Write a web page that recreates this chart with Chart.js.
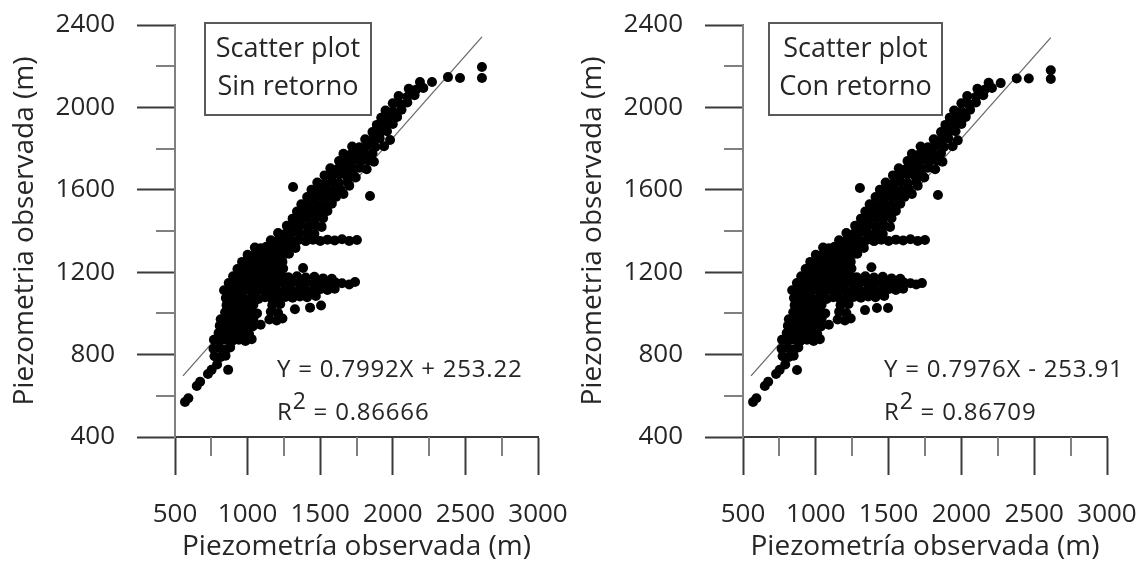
<!DOCTYPE html>
<html>
<head>
<meta charset="utf-8">
<script src="https://cdn.jsdelivr.net/npm/chart.js@4.4.1/dist/chart.umd.min.js"></script>
<style>
  body { margin: 0; background: #fff; font-family: "Open Sans", sans-serif; color: #262626; }
  .wrap { position: relative; width: 1146px; height: 569px; overflow: hidden; }
  .panel { position: absolute; top: 0; height: 569px; }
  .panel canvas { position: absolute; left: 0; top: 0; }
  .box {
    position: absolute; top: 22px; height: 94px; box-sizing: border-box;
    border: 2px solid #595959; padding-top: 4px;
    font-size: 27px; line-height: 38px; text-align: center; white-space: nowrap;
  }
  .eq { position: absolute; font-size: 24px; line-height: 30px; letter-spacing: 0.8px; white-space: nowrap; }
  .eq .sup { position: relative; top: -11px; font-size: 23px; }
</style>
</head>
<body>
<div class="wrap">
  <div class="panel" style="left:0; width:568px;">
    <canvas id="sinChart" width="568" height="569"></canvas>
    <div class="box" style="left:204px; width:168px;">Scatter plot<br>Sin retorno</div>
    <div class="eq" id="sinEq" style="left:277px; top:353px;"></div>
    <div class="eq" id="sinR2" style="left:277px; top:396px;"></div>
  </div>
  <div class="panel" style="left:568px; width:578px;">
    <canvas id="conChart" width="578" height="569"></canvas>
    <div class="box" style="left:200px; width:175px;">Scatter plot<br>Con retorno</div>
    <div class="eq" id="conEq" style="left:316px; top:353px;"></div>
    <div class="eq" id="conR2" style="left:316px; top:396px;"></div>
  </div>
</div>

<script>
// axis label positions
const xLabelValues = [500, 1000, 1500, 2000, 2500, 3000];
const yLabelValues = [400, 800, 1200, 1600, 2000, 2400];

// fitted line: slope / intercept and the x range it covers
const fitX = [555, 2614];
const fitSlope = [0.7992, 0.7976];
const fitIntercept = [253.22, 253.91];
const eqText = ["Y = 0.7992X + 253.22", "Y = 0.7976X - 253.91"];
const r2Text = ["0.86666", "0.86709"];

// [observada, simulada] pairs, sin retorno
const sinRetorno = [
  [569,570],[592,588],[650,648],[673,668],[727,706],[752,726],[790,752],[866,726],
  [772,792],[815,788],[848,795],
  [765,828],[805,832],[850,826],[880,835],
  [768,872],[810,866],[850,874],[895,868],[940,872],[985,866],[1028,875],
  [800,905],[842,900],[885,908],[930,902],[975,906],[1010,900],
  [808,940],[850,936],[895,944],[940,938],[985,942],[1035,936],[1090,945],
  [815,972],[860,968],[905,975],[950,970],[995,966],[1040,974],[1150,970],[1200,966],[1240,975],
  [845,1005],[890,1000],[935,1008],[980,1002],[1025,1006],[1065,1000],[1160,1008],[1210,1002],
  [1326,1020],[1430,1028],[1506,1038],
  [855,1040],[900,1036],[945,1044],[990,1038],[1040,1042],[1170,1040],[1225,1046],
  [850,1075],[895,1072],[940,1078],[985,1070],[1030,1076],[1075,1070],[1120,1078],[1165,1072],
  [1210,1076],[1260,1080],[1310,1076],[1360,1082],[1410,1078],[1470,1085],
  [838,1112],[880,1106],[925,1114],[970,1108],[1015,1112],[1060,1106],[1105,1114],[1150,1108],
  [1200,1112],[1250,1108],[1300,1115],[1350,1110],[1400,1116],[1450,1110],[1500,1118],[1550,1114],[1600,1120],
  [870,1147],[912,1142],[955,1150],[998,1144],[1040,1148],[1082,1142],[1125,1150],[1165,1144],
  [1205,1148],[1255,1142],[1305,1150],[1355,1145],[1405,1150],[1455,1144],[1505,1150],[1555,1145],
  [1605,1150],[1650,1146],[1700,1140],[1740,1152],
  [900,1180],[942,1176],[985,1184],[1028,1178],[1070,1182],[1112,1176],[1155,1184],[1195,1178],
  [1235,1182],[1280,1176],[1340,1180],[1400,1174],[1460,1178],[1520,1170],[1580,1168],
  [930,1215],[970,1211],[1010,1219],[1050,1213],[1090,1217],[1130,1211],[1170,1219],[1210,1213],[1245,1218],[1382,1220],
  [962,1250],[1000,1246],[1040,1254],[1080,1248],[1120,1252],[1160,1246],[1200,1254],[1240,1250],
  [1000,1285],[1040,1281],[1080,1289],[1120,1283],[1160,1287],[1200,1281],[1240,1288],[1285,1290],
  [1050,1320],[1090,1316],[1130,1324],[1170,1318],[1210,1322],[1250,1316],[1290,1324],[1330,1318],
  [1160,1355],[1205,1351],[1250,1359],[1300,1353],[1350,1357],[1400,1351],[1450,1358],[1500,1352],
  [1550,1358],[1600,1354],[1650,1360],[1700,1352],[1753,1356],
  [1210,1390],[1260,1386],[1310,1394],[1360,1388],[1410,1392],[1460,1386],
  [1270,1425],[1320,1421],[1370,1429],[1420,1423],[1470,1427],[1510,1420],
  [1310,1460],[1360,1456],[1410,1464],[1460,1458],[1520,1462],
  [1340,1495],[1390,1491],[1440,1499],[1490,1493],[1550,1497],
  [1370,1530],[1420,1526],[1470,1534],[1520,1528],[1580,1532],
  [1410,1565],[1460,1561],[1510,1569],[1560,1563],[1610,1567],[1660,1580],[1843,1570],
  [1440,1600],[1490,1596],[1540,1604],[1590,1598],[1640,1602],[1700,1620],[1313,1614],
  [1480,1635],[1530,1631],[1580,1639],[1630,1633],[1690,1637],[1745,1660],
  [1530,1670],[1580,1666],[1630,1674],[1680,1668],[1730,1672],
  [1570,1705],[1620,1701],[1670,1709],[1720,1703],[1770,1707],[1820,1700],
  [1630,1740],[1680,1736],[1730,1744],[1780,1738],[1830,1742],[1870,1736],
  [1660,1775],[1710,1771],[1760,1779],[1810,1773],[1860,1777],
  [1720,1810],[1770,1806],[1820,1814],[1880,1808],[1940,1812],
  [1810,1845],[1860,1841],[1910,1849],[1981,1842],
  [1860,1880],[1910,1876],[1960,1884],
  [1890,1915],[1940,1911],[2000,1919],
  [1920,1950],[1970,1946],[2030,1954],
  [1950,1985],[2000,1981],[2060,1989],
  [2000,2020],[2050,2016],[2100,2024],
  [2040,2055],[2100,2051],[2150,2059],
  [2110,2090],[2160,2086],[2210,2094],
  [2187,2123],[2270,2123],
  [2380,2147],[2463,2143],[2614,2196],[2614,2143]
];

// [observada, simulada] pairs, con retorno
const conRetorno = [
  [569,570],[592,588],[650,648],[673,668],[727,706],[752,726],[790,752],[871,725],
  [772,792],[815,788],[848,795],
  [765,828],[805,832],[850,826],[880,835],
  [768,872],[810,866],[850,874],[895,868],[940,872],[985,866],[1028,875],
  [800,905],[842,900],[885,908],[930,902],[975,906],[1010,900],
  [808,940],[850,936],[895,944],[940,938],[985,942],[1035,936],[1090,945],
  [815,972],[860,968],[905,975],[950,970],[995,966],[1040,974],[1150,970],[1200,966],[1240,975],
  [845,1005],[890,1000],[935,1008],[980,1002],[1025,1006],[1065,1000],[1160,1008],[1210,1002],
  [1338,1016],[1420,1026],[1496,1026],
  [855,1040],[900,1036],[945,1044],[990,1038],[1040,1042],[1170,1040],[1225,1046],
  [850,1075],[895,1072],[940,1078],[985,1070],[1030,1076],[1075,1070],[1120,1078],[1165,1072],
  [1210,1076],[1260,1080],[1310,1076],[1360,1082],[1410,1078],[1470,1085],
  [838,1112],[880,1106],[925,1114],[970,1108],[1015,1112],[1060,1106],[1105,1114],[1150,1108],
  [1200,1112],[1250,1108],[1300,1115],[1350,1110],[1400,1116],[1450,1110],[1500,1118],[1550,1114],[1600,1120],
  [870,1147],[912,1142],[955,1150],[998,1144],[1040,1148],[1082,1142],[1125,1150],[1165,1144],
  [1205,1148],[1255,1142],[1305,1150],[1355,1145],[1405,1150],[1455,1144],[1505,1150],[1555,1145],
  [1605,1150],[1650,1146],[1690,1140],[1729,1147],
  [900,1180],[942,1176],[985,1184],[1028,1178],[1070,1182],[1112,1176],[1155,1184],[1195,1178],
  [1235,1182],[1280,1176],[1340,1180],[1400,1174],[1460,1178],[1520,1170],[1580,1168],
  [930,1215],[970,1211],[1010,1219],[1050,1213],[1090,1217],[1130,1211],[1170,1219],[1210,1213],[1245,1218],[1382,1224],
  [962,1250],[1000,1246],[1040,1254],[1080,1248],[1120,1252],[1160,1246],[1200,1254],[1240,1250],
  [1000,1285],[1040,1281],[1080,1289],[1120,1283],[1160,1287],[1200,1281],[1240,1288],[1285,1290],
  [1050,1320],[1090,1316],[1130,1324],[1170,1318],[1210,1322],[1250,1316],[1290,1324],[1330,1318],
  [1160,1355],[1205,1351],[1250,1359],[1300,1353],[1350,1357],[1400,1351],[1450,1358],[1500,1352],
  [1550,1358],[1600,1354],[1650,1360],[1700,1352],[1750,1356],
  [1210,1390],[1260,1386],[1310,1394],[1360,1388],[1410,1392],[1460,1386],
  [1270,1425],[1320,1421],[1370,1429],[1420,1423],[1470,1427],[1510,1420],
  [1310,1460],[1360,1456],[1410,1464],[1460,1458],[1520,1462],
  [1340,1495],[1390,1491],[1440,1499],[1490,1493],[1550,1497],
  [1370,1530],[1420,1526],[1470,1534],[1520,1528],[1580,1532],
  [1410,1565],[1460,1561],[1510,1569],[1560,1563],[1610,1567],[1660,1580],[1839,1575],
  [1440,1600],[1490,1596],[1540,1604],[1590,1598],[1640,1602],[1700,1620],[1303,1609],
  [1480,1635],[1530,1631],[1580,1639],[1630,1633],[1690,1637],[1745,1660],
  [1530,1670],[1580,1666],[1630,1674],[1680,1668],[1730,1672],
  [1570,1705],[1620,1701],[1670,1709],[1720,1703],[1770,1707],[1820,1700],
  [1630,1740],[1680,1736],[1730,1744],[1780,1738],[1830,1742],[1870,1736],
  [1660,1775],[1710,1771],[1760,1779],[1810,1773],[1860,1777],
  [1720,1810],[1770,1806],[1820,1814],[1880,1808],[1940,1812],
  [1810,1845],[1860,1841],[1910,1849],[1975,1840],
  [1860,1880],[1910,1876],[1960,1884],
  [1890,1915],[1940,1911],[2000,1919],
  [1920,1950],[1970,1946],[2030,1954],
  [1950,1985],[2000,1981],[2060,1989],
  [2000,2020],[2050,2016],[2100,2024],
  [2040,2055],[2100,2051],[2150,2059],
  [2110,2090],[2160,2086],[2210,2094],
  [2187,2120],[2270,2118],
  [2380,2140],[2463,2140],[2614,2180],[2614,2138]
];

Chart.defaults.font.family = "'Open Sans', sans-serif";
Chart.defaults.color = "#262626";

const AXIS_DARK = "#3a3a3a";
const AXIS_GRAY = "#808080";
const TICK_FONT = { size: 26 };
const TITLE_FONT = { size: 28 };

// short ticks between the labelled ones
const minorTicks = {
  id: "minorTicks",
  afterDraw(chart) {
    const { ctx } = chart;
    const x = chart.scales.x, y = chart.scales.y;
    ctx.save();
    ctx.strokeStyle = AXIS_GRAY;
    ctx.lineWidth = 2;
    x.ticks.forEach(t => {
      if (xLabelValues.includes(t.value)) return;
      const px = Math.round(x.getPixelForValue(t.value));
      ctx.beginPath();
      ctx.moveTo(px, x.top);
      ctx.lineTo(px, x.top + 19);
      ctx.stroke();
    });
    y.ticks.forEach(t => {
      if (yLabelValues.includes(t.value)) return;
      const py = Math.round(y.getPixelForValue(t.value));
      ctx.beginPath();
      ctx.moveTo(y.right, py);
      ctx.lineTo(y.right - 19, py);
      ctx.stroke();
    });
    ctx.restore();
  }
};

// fixed axis box sizes, no extra room for edge labels
function fitX_(s) {
  s.height = 132;
  s.paddingLeft = s.paddingRight = s.paddingTop = s.paddingBottom = 0;
}
function fitY_(s) {
  s.width = 175;
  s.paddingLeft = s.paddingRight = s.paddingTop = s.paddingBottom = 0;
}

function makeChart(id, points, i, rightPad) {
  const fitLine = fitX.map(v => ({ x: v, y: fitSlope[i] * v + fitIntercept[i] }));

  return new Chart(document.getElementById(id), {
    type: "scatter",
    data: {
      datasets: [
        {
          data: points.map(p => ({ x: p[0], y: p[1] })),
          backgroundColor: "#000",
          borderWidth: 0,
          pointRadius: 5,
        },
        {
          type: "line",
          data: fitLine,
          borderColor: "#6b6b6b",
          borderWidth: 1.3,
          pointRadius: 0,
          fill: false,
        },
      ],
    },
    options: {
      responsive: false,
      animation: false,
      events: [],
      layout: { padding: { left: 0, top: 25, right: rightPad, bottom: 0 } },
      plugins: { legend: { display: false }, tooltip: { enabled: false } },
      scales: {
        x: {
          type: "linear",
          min: 500,
          max: 3000,
          afterFit: fitX_,
          ticks: {
            stepSize: 250,
            autoSkip: false,
            maxRotation: 0,
            padding: 24,
            font: TICK_FONT,
            color: "#262626",
            callback: v => (xLabelValues.includes(v) ? v : ""),
          },
          grid: {
            drawOnChartArea: false,
            tickLength: 38,
            tickWidth: 2,
            tickColor: c => (xLabelValues.includes(c.tick.value) ? AXIS_DARK : "transparent"),
          },
          border: { color: AXIS_DARK, width: 2 },
          title: {
            display: true,
            text: "Piezometría observada (m)",
            font: TITLE_FONT,
            color: "#262626",
            padding: { top: 0, bottom: 5 },
          },
        },
        y: {
          type: "linear",
          min: 400,
          max: 2400,
          afterFit: fitY_,
          ticks: {
            stepSize: 200,
            autoSkip: false,
            padding: 22,
            font: TICK_FONT,
            color: "#262626",
            callback: v => (yLabelValues.includes(v) ? v : ""),
          },
          grid: {
            drawOnChartArea: false,
            tickLength: 38,
            tickWidth: 2,
            tickColor: c => (yLabelValues.includes(c.tick.value) ? AXIS_DARK : "transparent"),
          },
          border: { color: AXIS_GRAY, width: 2 },
          title: {
            display: true,
            text: "Piezometria observada (m)",
            font: TITLE_FONT,
            color: "#262626",
            padding: { top: 8, bottom: 0 },
          },
        },
      },
    },
    plugins: [minorTicks],
  });
}

makeChart("sinChart", sinRetorno, 0, 30);
makeChart("conChart", conRetorno, 1, 39);

document.getElementById("sinEq").textContent = eqText[0];
document.getElementById("conEq").textContent = eqText[1];
document.getElementById("sinR2").innerHTML = 'R<span class="sup">2</span> = ' + r2Text[0];
document.getElementById("conR2").innerHTML = 'R<span class="sup">2</span> = ' + r2Text[1];
</script>
</body>
</html>
